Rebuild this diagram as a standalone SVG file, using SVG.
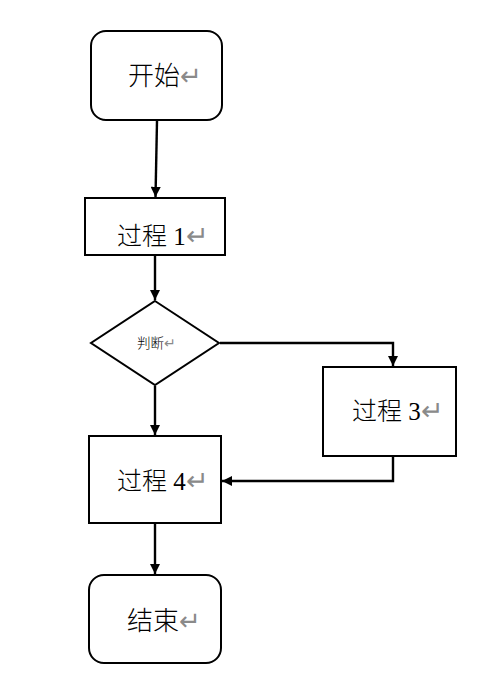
<svg xmlns="http://www.w3.org/2000/svg" width="478" height="682" viewBox="0 0 478 682">
<style>
.box{fill:#fff;stroke:#000;stroke-width:2}
.t{font-family:"Liberation Serif","Noto Sans CJK SC",serif;fill:#000;font-weight:300}
.r{fill:#8a8a8a}
.c{fill:none;stroke:#000;stroke-width:2.4}
</style>
<defs>
<marker id="a" viewBox="0 0 10 10" refX="10" refY="5" markerWidth="4.5" markerHeight="4.2" orient="auto" markerUnits="strokeWidth">
<path d="M0,0 L10,5 L0,10 z" fill="#000"/>
</marker>
</defs>
<rect width="478" height="682" fill="#fff"/>
<g id="connectors">
<path class="c" d="M157,121 L155.5,197" marker-end="url(#a)"/>
<path class="c" d="M155,256 L155,300" marker-end="url(#a)"/>
<path class="c" d="M220,343 L393,343 L393,366" marker-end="url(#a)"/>
<path class="c" d="M155,386 L155,435" marker-end="url(#a)"/>
<path class="c" d="M393,457 L393,481 L222,481" marker-end="url(#a)"/>
<path class="c" d="M155,524 L155,574" marker-end="url(#a)"/>
</g>
<g id="start">
<rect class="box" x="91" y="31" width="131" height="89" rx="15"/>
<text class="t" x="128" y="85" font-size="26">开始<tspan class="r">↵</tspan></text>
</g>
<g id="p1">
<rect class="box" x="85" y="198" width="140" height="57"/>
<text class="t" x="117" y="245" font-size="25">过程 1<tspan class="r" font-size="27">↵</tspan></text>
</g>
<g id="decision">
<polygon class="box" points="155,301 219,343 155,385 91,343"/>
<text class="t" x="137" y="348" font-size="13.5">判断<tspan class="r">↵</tspan></text>
</g>
<g id="p3">
<rect class="box" x="323" y="367" width="133" height="89"/>
<text class="t" x="352" y="420" font-size="25">过程 3<tspan class="r" font-size="27">↵</tspan></text>
</g>
<g id="p4">
<rect class="box" x="89" y="436" width="132" height="87"/>
<text class="t" x="117" y="490" font-size="25">过程 4<tspan class="r" font-size="27">↵</tspan></text>
</g>
<g id="end">
<rect class="box" x="89" y="575" width="132" height="88" rx="15"/>
<text class="t" x="127" y="630" font-size="26">结束<tspan class="r">↵</tspan></text>
</g>
</svg>
